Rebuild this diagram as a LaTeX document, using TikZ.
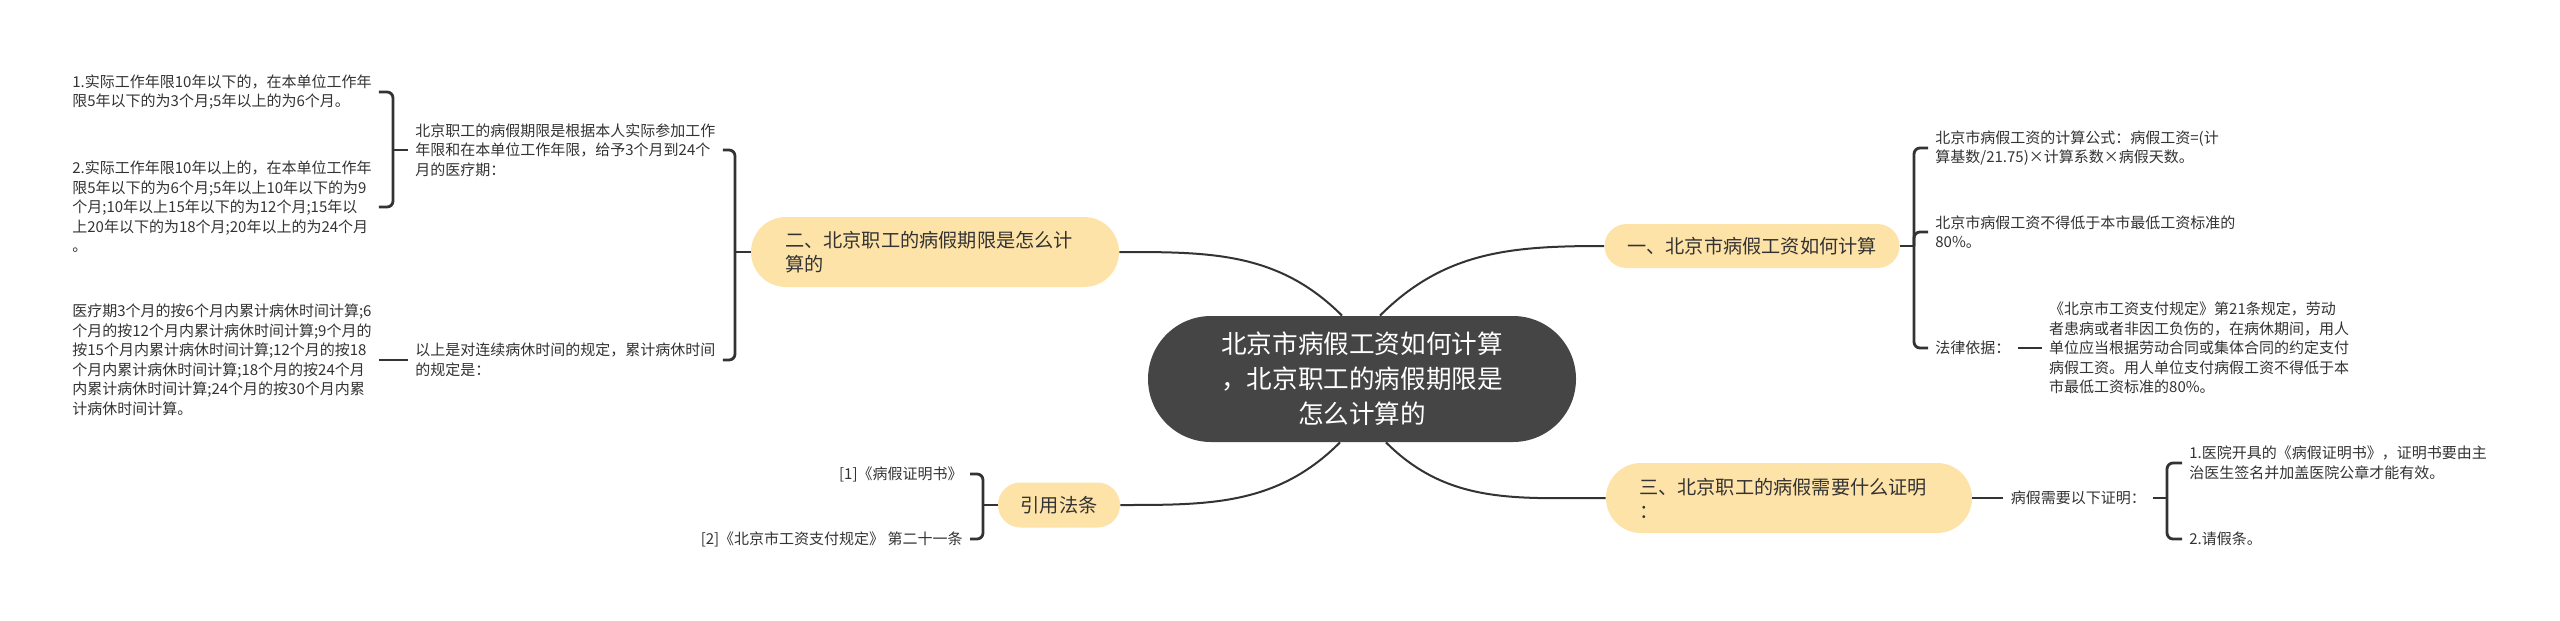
\documentclass[tikz,border=0pt]{standalone}
\usepackage{fontspec}
\setmainfont{Noto Sans CJK SC}
\usepackage{tikz}
\usetikzlibrary{positioning,shapes.misc}
\definecolor{titlegray}{HTML}{454545}
\definecolor{topicfill}{HTML}{FEE3A8}
\definecolor{inkgray}{HTML}{333333}
\tikzset{titlenode/.style={
                          % The shape:
                          rectangle,minimum width=214pt,minimum height=63pt,rounded corners=31.5pt,
                          % The rest
                          fill=titlegray,text=white,inner sep=0pt,align=center,
                          font=\fontsize{12.8}{17.5}\selectfont,
                          },
         topicnode/.style={
                          % The shape:
                          rectangle,minimum height=35pt,rounded corners=17.5pt,
                          % The rest
                          fill=topicfill,text=inkgray,inner xsep=17pt,inner ysep=0pt,align=left,
                          font=\fontsize{9.6}{12}\selectfont,
                          },
         leaf/.style={text=inkgray,inner xsep=3.5pt,inner ysep=1pt,align=left,
                      font=\fontsize{7.5}{9.75}\selectfont},
         branch/.style={draw=inkgray,line width=1pt},
         bracket/.style={draw=inkgray,line width=1.4pt,rounded corners=3pt},
        }
\begin{document}
\begin{tikzpicture}[x=0.5pt,y=-0.5pt]
  \useasboundingbox (0,0) rectangle (2560,621);
  \fill[white] (0,0) rectangle (2560,621);
  % Title and topics:
  \node (title) [titlenode] at (1362,379) {北京市病假工资如何计算\\，北京职工的病假期限是\\怎么计算的};
  \node (wage) [topicnode,minimum width=147.5pt,minimum height=22pt,rounded corners=11pt,inner xsep=0pt] at (1752,246) {一、北京市病假工资如何计算};
  \node (period) [topicnode,text width=150pt] at (935,252) {二、北京职工的病假期限是怎么计\\算的};
  \node (proof) [topicnode,text width=150pt,inner xsep=16.5pt] at (1789,498) {三、北京职工的病假需要什么证明\\：};
  \node (refs) [topicnode,minimum width=61pt,minimum height=22.5pt,rounded corners=11.25pt,inner xsep=0pt] at (1059,505) {引用法条};
  \draw[branch] ([xshift=9pt]title.north) to[out=45,in=180] (wage.west);
  \draw[branch] ([xshift=-10pt]title.north) to[out=135,in=0] (period.east);
  \draw[branch] ([xshift=12pt]title.south) to[out=-45,in=180] (proof.west);
  \draw[branch] ([xshift=-11pt]title.south) to[out=-135,in=0] (refs.east);

  % First topic:
  \node (wageFormula) [leaf,anchor=west] at (1928,148) {北京市病假工资的计算公式：病假工资=(计\\算基数/21.75)×计算系数×病假天数。};
  \node (wageMin) [leaf,anchor=west] at (1928,232) {北京市病假工资不得低于本市最低工资标准的\\80\%。};
  \node (wageLaw) [leaf,anchor=west] at (1928,348) {法律依据：};
  \node (wageLawText) [leaf,right=12pt of wageLaw] {《北京市工资支付规定》第21条规定，劳动\\者患病或者非因工负伤的，在病休期间，用人\\单位应当根据劳动合同或集体合同的约定支付\\病假工资。用人单位支付病假工资不得低于本\\市最低工资标准的80\%。};
  \coordinate (wageHub) at (1914,246);
  \draw[bracket] (wage) -- (wageHub);
  \foreach \leafname in {wageFormula,wageMin,wageLaw}
    \draw[bracket] (wageHub) |- (\leafname.west);
  \draw[bracket] (wageLaw) -- (wageLawText);

  % Second topic:
  \node (periodRule) [leaf,anchor=west] at (408,150) {北京职工的病假期限是根据本人实际参加工作\\年限和在本单位工作年限，给予3个月到24个\\月的医疗期：};
  \node (periodTotal) [leaf,anchor=west] at (408,360) {以上是对连续病休时间的规定，累计病休时间\\的规定是：};
  \node (periodShort) [leaf,anchor=west] at (65,92) {1.实际工作年限10年以下的，在本单位工作年\\限5年以下的为3个月;5年以上的为6个月。};
  \node (periodLong) [leaf,anchor=west] at (65,207) {2.实际工作年限10年以上的，在本单位工作年\\限5年以下的为6个月;5年以上10年以下的为9\\个月;10年以上15年以下的为12个月;15年以\\上20年以下的为18个月;20年以上的为24个月\\。};
  \node (periodTotalText) [leaf,anchor=west] at (65,360) {医疗期3个月的按6个月内累计病休时间计算;6\\个月的按12个月内累计病休时间计算;9个月的\\按15个月内累计病休时间计算;12个月的按18\\个月内累计病休时间计算;18个月的按24个月\\内累计病休时间计算;24个月的按30个月内累\\计病休时间计算。};
  \coordinate (periodHub) at (735,252);
  \draw[bracket] (period) -- (periodHub);
  \foreach \leafname in {periodRule,periodTotal}
    \draw[bracket] (periodHub) |- (\leafname.east);
  \coordinate (ruleHub) at (393,150);
  \draw[bracket] (periodRule) -- (ruleHub);
  \foreach \leafname in {periodShort,periodLong}
    \draw[bracket] (ruleHub) |- (\leafname.east);
  \draw[bracket] (periodTotalText) -- (periodTotal);

  % Third topic:
  \node (proofNeed) [leaf,right=15.5pt of proof] {病假需要以下证明：};
  \node (proofCert) [leaf,anchor=west] at (2182,463) {1.医院开具的《病假证明书》，证明书要由主\\治医生签名并加盖医院公章才能有效。};
  \node (proofNote) [leaf,anchor=west] at (2182,539) {2.请假条。};
  \draw[bracket] (proof) -- (proofNeed);
  \coordinate (proofHub) at (2167,498);
  \draw[bracket] (proofNeed) -- (proofHub);
  \foreach \leafname in {proofCert,proofNote}
    \draw[bracket] (proofHub) |- (\leafname.west);

  % References:
  \node (refCert) [leaf,anchor=east] at (970,474) {[1]《病假证明书》};
  \node (refRule) [leaf,anchor=east] at (970,539) {[2]《北京市工资支付规定》 第二十一条};
  \coordinate (refsHub) at (983,505);
  \draw[bracket] (refs) -- (refsHub);
  \foreach \leafname in {refCert,refRule}
    \draw[bracket] (refsHub) |- (\leafname.east);
\end{tikzpicture}
\end{document}
